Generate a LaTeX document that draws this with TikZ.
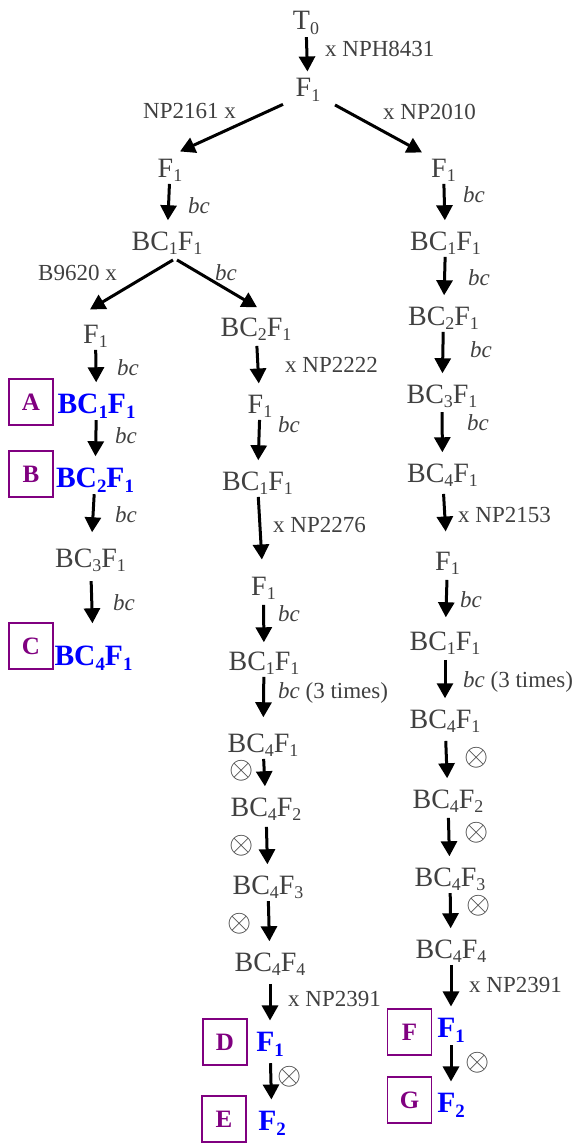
\documentclass[tikz,border=0pt]{standalone}
\usepackage{fontspec}
\setmainfont{Liberation Serif}
\usepackage{graphicx}
\usetikzlibrary{arrows.meta}
\definecolor{ink}{RGB}{64,64,64}
\definecolor{hl}{RGB}{0,0,255}
\definecolor{tagc}{RGB}{128,0,128}
% lowered, reduced index used in the generation labels
\newcommand\lo[1]{\raisebox{-0.17em}{\scalebox{0.64}{#1}}}
\newcommand\bcx{\textit{bc}}
\newcommand\selfx{\scalebox{1.25}{$\otimes$}}
\begin{document}
\begin{tikzpicture}[x=1pt,y=-1pt,
  lab/.style={inner sep=0pt, anchor=base, text=ink, font=\fontsize{28}{31}\selectfont},
  key/.style={inner sep=0pt, anchor=base, text=hl, font=\fontsize{29.5}{32}\selectfont\bfseries},
  note/.style={inner sep=0pt, anchor=base west, text=ink, font=\fontsize{23}{26}\selectfont},
  cross/.style={inner sep=0pt, text=ink, font=\fontsize{23}{26}\selectfont},
  tag/.style={draw=tagc, line width=1.5pt, minimum width=44pt, minimum height=46pt,
    inner sep=0pt, text=tagc, font=\fontsize{25}{28}\selectfont\bfseries},
  arr/.style={-{Triangle[length=15pt,width=16pt]}, line width=3pt,
    shorten <=2pt, shorten >=11pt},
]
\useasboundingbox (0,0) rectangle (573,1145);

% ---- top: parent and first crosses
\node[lab] (t0) at (306,30) {T\lo{0}};
\node[lab] (f1) at (308,97) {F\lo{1}};
\node[note] (n8431) at (325,57) {x NPH8431};
\draw[arr, shorten >=7pt] (t0) -- (f1);

\node[lab] (l1) at (170,177) {F\lo{1}};
\node[lab] (r1) at (443.5,177) {F\lo{1}};
\node[note, anchor=base east] (n2161) at (236,118) {NP2161 x};
\node[note] (n2010) at (383,120) {x NP2010};
\draw[arr, shorten >=0pt, shorten <=0pt] ([shift={(-25,2.4)}]f1.south) -- ([shift={(10,-7)}]l1.north);
\draw[arr, shorten >=0pt, shorten <=0pt] ([shift={(27,3)}]f1.south) -- ([shift={(-21.5,-6)}]r1.north);

% ---- left branch
\node[lab] (l2) at (167,250) {BC\lo{1}F\lo{1}};
\node[note] (b1) at (188,213) {\bcx};
\draw[arr] (l1) -- (l2);

\node[lab] (l3) at (95.5,343) {F\lo{1}};
\node[lab] (m1) at (256,336) {BC\lo{2}F\lo{1}};
\node[note, anchor=base east] (n9620) at (117,280) {B9620 x};
\node[note] (b2) at (215,280) {\bcx};
\draw[arr, shorten >=0pt, shorten <=0pt] ([shift={(6,5)}]l2.south) -- ([shift={(-5.5,-15)}]l3.north);
\draw[arr, shorten >=0pt, shorten <=0pt] ([shift={(10,5)}]l2.south) -- ([shift={(1,-10)}]m1.north);

\node[key] (l4) at (96.5,413) {BC\lo{1}F\lo{1}};
\node[tag] (tA) at (31,402) {A};
\node[note] (b3) at (117,375) {\bcx};
\draw[arr] (l3) -- (l4);

\node[key] (l5) at (95,487) {BC\lo{2}F\lo{1}};
\node[tag] (tB) at (31,474) {B};
\node[note] (b4) at (115,443) {\bcx};
\draw[arr] (l4) -- (l5);

\node[lab] (l6) at (90.5,567) {BC\lo{3}F\lo{1}};
\node[note] (b5) at (115,522) {\bcx};
\draw[arr, shorten >=16pt] (l5) -- (l6);

\node[key] (l7) at (93.5,665) {BC\lo{4}F\lo{1}};
\node[tag] (tC) at (31,646) {C};
\node[note] (b6) at (113,610) {\bcx};
\draw[arr, shorten <=9pt, shorten >=22pt] (l6) -- (l7);

% ---- middle branch
\node[lab] (m2) at (260,413) {F\lo{1}};
\node[note] (n2222) at (285,372) {x NP2222};
\draw[arr, shorten <=5pt] (m1) -- (m2);

\node[lab] (m3) at (257.5,490) {BC\lo{1}F\lo{1}};
\node[note] (b7) at (278,432) {\bcx};
\draw[arr] (m2) -- (m3);

\node[lab] (m4) at (263.5,595) {F\lo{1}};
\node[note] (n2276) at (273,532) {x NP2276};
\draw[arr, shorten >=17pt] (m3) -- (m4);

\node[lab] (m5) at (264,670) {BC\lo{1}F\lo{1}};
\node[note] (b8) at (278,621) {\bcx};
\draw[arr, shorten <=5pt, shorten >=9pt] (m4) -- (m5);

\node[lab] (m6) at (263,752) {BC\lo{4}F\lo{1}};
\node[note] (b9) at (278,698) {\bcx{} (3 times)};
\draw[arr, shorten >=16pt] (m5) -- (m6);

\node[lab] (m7) at (266,816) {BC\lo{4}F\lo{2}};
\node[cross] (x1) at (242,771) {\selfx};
\draw[arr] (m6) -- (m7);

\node[lab] (m8) at (268,894) {BC\lo{4}F\lo{3}};
\node[cross] (x2) at (242,846) {\selfx};
\draw[arr, shorten <=6pt] (m7) -- (m8);

\node[lab] (m9) at (270,971) {BC\lo{4}F\lo{4}};
\node[cross] (x3) at (240,924) {\selfx};
\draw[arr] (m8) -- (m9);

\node[key] (m10) at (270,1051) {F\lo{1}};
\node[tag] (tD) at (225,1042) {D};
\node[note] (n2391a) at (288,1006) {x NP2391};
\draw[arr, shorten <=8pt] (m9) -- (m10);

\node[key] (m11) at (272,1130) {F\lo{2}};
\node[tag] (tE) at (224,1119) {E};
\node[cross] (x4) at (290,1077) {\selfx};
\draw[arr, shorten <=7pt] (m10) -- (m11);

% ---- right branch
\node[lab] (r2) at (445.5,250) {BC\lo{1}F\lo{1}};
\node[note] (b10) at (463,202) {\bcx};
\draw[arr] (r1) -- (r2);

\node[lab] (r3) at (443.5,325) {BC\lo{2}F\lo{1}};
\node[note] (b11) at (468,285) {\bcx};
\draw[arr] (r2) -- (r3);

\node[lab] (r4) at (442,403) {BC\lo{3}F\lo{1}};
\node[note] (b12) at (470,357) {\bcx};
\draw[arr] (r3) -- (r4);

\node[lab] (r5) at (442.5,482) {BC\lo{4}F\lo{1}};
\node[note] (b13) at (467,430) {\bcx};
\draw[arr, shorten <=4pt] (r4) -- (r5);

\node[lab] (r6) at (447.5,570) {F\lo{1}};
\node[note] (n2153) at (458,522) {x NP2153};
\draw[arr, shorten <=7pt, shorten >=20pt] (r5) -- (r6);

\node[lab] (r7) at (445,650) {BC\lo{1}F\lo{1}};
\node[note] (b14) at (460,607) {\bcx};
\draw[arr, shorten <=5pt, shorten >=14pt] (r6) -- (r7);

\node[lab] (r8) at (445,728) {BC\lo{4}F\lo{1}};
\node[note] (b15) at (463,687) {\bcx{} (3 times)};
\draw[arr, shorten <=5pt] (r7) -- (r8);

\node[lab] (r9) at (448,808) {BC\lo{4}F\lo{2}};
\node[cross] (x5) at (477,758) {\selfx};
\draw[arr, shorten <=8pt] (r8) -- (r9);

\node[lab] (r10) at (450,886) {BC\lo{4}F\lo{3}};
\node[cross] (x6) at (477,833) {\selfx};
\draw[arr, shorten <=5pt] (r9) -- (r10);

\node[lab] (r11) at (451,958) {BC\lo{4}F\lo{4}};
\node[cross] (x7) at (479,906) {\selfx};
\draw[arr] (r10) -- (r11);

\node[key] (r12) at (451,1037) {F\lo{1}};
\node[tag] (tF) at (409.5,1032) {F};
\node[note] (n2391b) at (469,992) {x NP2391};
\draw[arr] (r11) -- (r12);

\node[key] (r13) at (451,1112) {F\lo{2}};
\node[tag] (tG) at (409.5,1100) {G};
\node[cross] (x8) at (478,1063) {\selfx};
\draw[arr, shorten <=3pt] (r12) -- (r13);
\end{tikzpicture}
\end{document}
